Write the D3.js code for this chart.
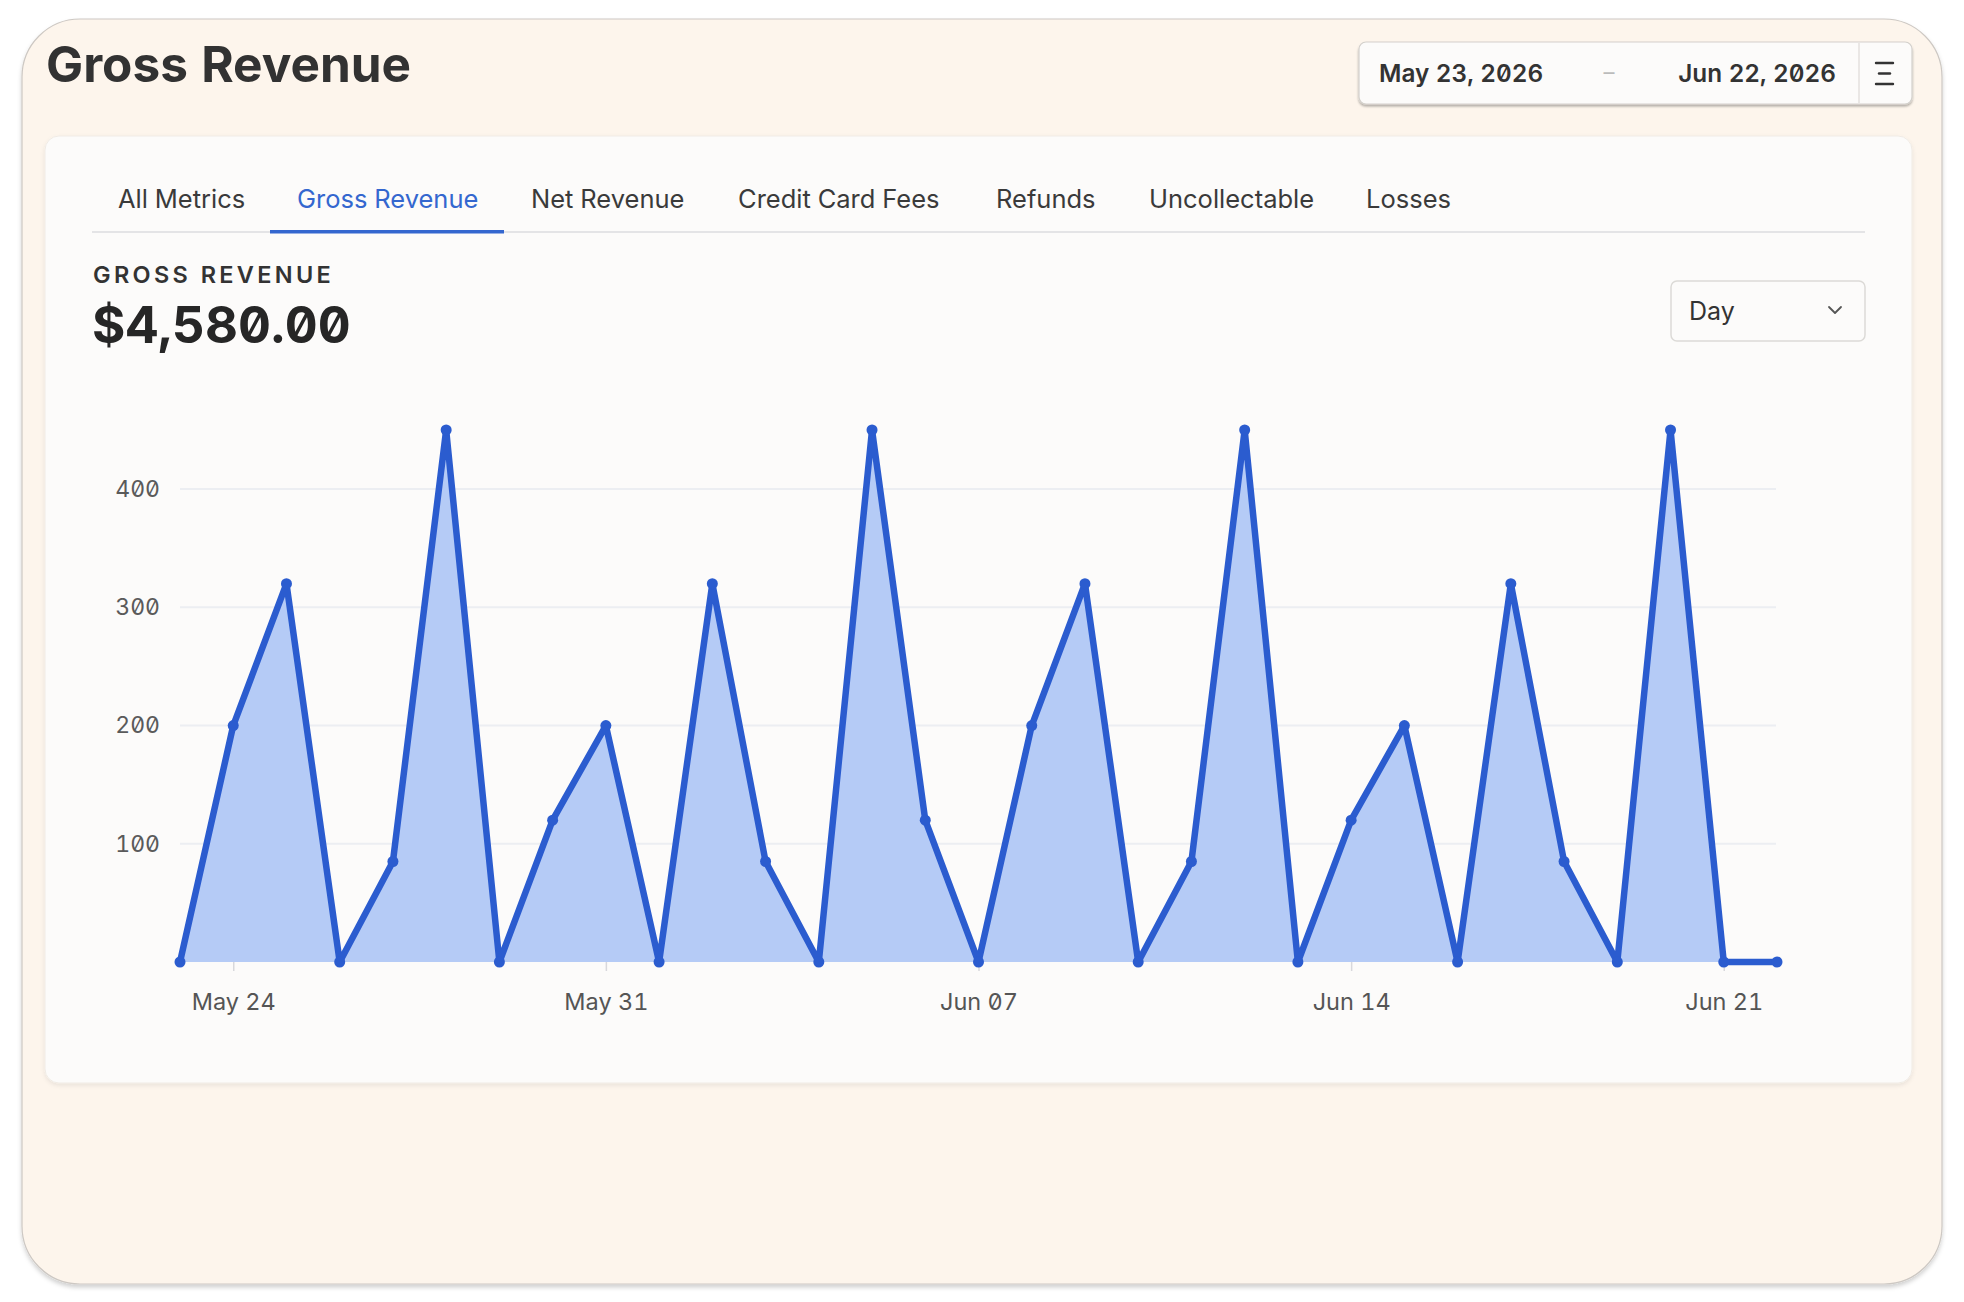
<!DOCTYPE html>
<html>
<head>
<meta charset="utf-8">
<script src="https://cdn.jsdelivr.net/npm/d3@7"></script>
<style>
  html, body { margin: 0; padding: 0; background: #ffffff; }
  svg { display: block; font-family: Inter, "Noto Sans", sans-serif; font-feature-settings: "zero" 1, "tnum" 1; }
</style>
</head>
<body>
<svg id="chart" width="1964" height="1302"></svg>
<script>
// ---- data ----
const dates = [
  "2026-05-23","2026-05-24","2026-05-25","2026-05-26","2026-05-27","2026-05-28","2026-05-29",
  "2026-05-30","2026-05-31","2026-06-01","2026-06-02","2026-06-03","2026-06-04","2026-06-05",
  "2026-06-06","2026-06-07","2026-06-08","2026-06-09","2026-06-10","2026-06-11","2026-06-12",
  "2026-06-13","2026-06-14","2026-06-15","2026-06-16","2026-06-17","2026-06-18","2026-06-19",
  "2026-06-20","2026-06-21","2026-06-22"
];
const values = [
  0, 200, 320, 0, 85, 450, 0,
  120, 200, 0, 320, 85, 0, 450,
  120, 0, 200, 320, 0, 85, 450,
  0, 120, 200, 0, 320, 85, 0,
  450, 0, 0
];
const yTickValues = [100, 200, 300, 400];
const xTickDates = ["2026-05-24", "2026-05-31", "2026-06-07", "2026-06-14", "2026-06-21"];
const tabs = ["All Metrics", "Gross Revenue", "Net Revenue", "Credit Card Fees", "Refunds", "Uncollectable", "Losses"];
const activeTab = "Gross Revenue";
const pageTitle = "Gross Revenue";
const metricLabel = "GROSS REVENUE";
const rangeStart = "May 23, 2026";
const rangeEnd = "Jun 22, 2026";
const granularity = "Day";

// ---- drawing ----
const parse = d3.utcParse("%Y-%m-%d");
const data = dates.map((d, i) => ({ date: parse(d), value: values[i] }));
const total = d3.sum(values);

const svg = d3.select("#chart");

const defs = svg.append("defs");
const f1 = defs.append("filter").attr("id", "outerShadow").attr("x", "-5%").attr("y", "-5%").attr("width", "110%").attr("height", "112%");
f1.append("feDropShadow").attr("dx", 0).attr("dy", 3).attr("stdDeviation", 2).attr("flood-color", "#000").attr("flood-opacity", 0.18);
const f2 = defs.append("filter").attr("id", "cardShadow").attr("x", "-5%").attr("y", "-5%").attr("width", "110%").attr("height", "112%");
f2.append("feDropShadow").attr("dx", 0).attr("dy", 2).attr("stdDeviation", 2).attr("flood-color", "#000").attr("flood-opacity", 0.08);
const f3 = defs.append("filter").attr("id", "boxShadow").attr("x", "-5%").attr("y", "-20%").attr("width", "110%").attr("height", "150%");
f3.append("feDropShadow").attr("dx", 0).attr("dy", 2).attr("stdDeviation", 1.2).attr("flood-color", "#000").attr("flood-opacity", 0.3);

// outer card
svg.append("rect")
  .attr("x", 22).attr("y", 19).attr("width", 1920).attr("height", 1265)
  .attr("rx", 58).attr("ry", 58)
  .attr("fill", "#fdf5ec").attr("stroke", "#cdc8c3").attr("stroke-width", 1.2)
  .attr("filter", "url(#outerShadow)");

// page title
svg.append("text")
  .attr("x", 46).attr("y", 82)
  .attr("font-size", 49.5).attr("font-weight", 700).attr("fill", "#323232")
  .text(pageTitle);

// date range box
const dr = svg.append("g");
dr.append("rect")
  .attr("x", 1359).attr("y", 42).attr("width", 553).attr("height", 62)
  .attr("rx", 7).attr("fill", "#fcfbfa").attr("stroke", "#d3d0cc").attr("stroke-width", 1.2)
  .attr("filter", "url(#boxShadow)");
dr.append("line").attr("x1", 1859).attr("x2", 1859).attr("y1", 43).attr("y2", 103)
  .attr("stroke", "#dedbd7").attr("stroke-width", 1.2);
dr.append("text").attr("x", 1379).attr("y", 82).attr("font-size", 24.3).attr("font-weight", 600)
  .attr("fill", "#333").text(rangeStart);
dr.append("text").attr("x", 1609).attr("y", 80).attr("text-anchor", "middle").attr("font-size", 22)
  .attr("fill", "#bbb").text("–");
dr.append("text").attr("x", 1836).attr("y", 82).attr("text-anchor", "end").attr("font-size", 24.3).attr("font-weight", 600)
  .attr("fill", "#333").text(rangeEnd);
// hamburger icon
[[63, 1876, 1893], [73.5, 1879, 1890], [84, 1876, 1893]].forEach(([yy, a, b]) => {
  dr.append("line").attr("x1", a).attr("x2", b).attr("y1", yy).attr("y2", yy)
    .attr("stroke", "#333").attr("stroke-width", 2.4).attr("stroke-linecap", "round");
});

// inner card
svg.append("rect")
  .attr("x", 45).attr("y", 136).attr("width", 1867).attr("height", 947)
  .attr("rx", 14).attr("fill", "#fcfbfa").attr("stroke", "#f0ebe5").attr("stroke-width", 1)
  .attr("filter", "url(#cardShadow)");

// tabs
const tabX = [118, 297, 531, 738, 996, 1149, 1366];
svg.append("line").attr("x1", 92).attr("x2", 1865).attr("y1", 232).attr("y2", 232)
  .attr("stroke", "#e4e4e6").attr("stroke-width", 2);
const tabG = svg.append("g");
tabs.forEach((t, i) => {
  tabG.append("text")
    .attr("x", tabX[i]).attr("y", 208)
    .attr("font-size", 25.5).attr("font-weight", 400)
    .attr("fill", t === activeTab ? "#3467cf" : "#3a3a3a")
    .text(t);
  if (t === activeTab) {
    tabG.append("rect").attr("x", 270).attr("y", 230).attr("width", 234).attr("height", 3.5)
      .attr("fill", "#3467cf");
  }
});

// metric label and total
svg.append("text").attr("x", 93).attr("y", 283)
  .attr("font-size", 23.5).attr("font-weight", 600).attr("letter-spacing", 3.3)
  .attr("fill", "#333").text(metricLabel);
svg.append("text").attr("x", 92).attr("y", 343)
  .attr("font-size", 51).attr("font-weight", 700).attr("fill", "#262626")
  .text("$" + d3.format(",.2f")(total));

// granularity dropdown
const dd = svg.append("g");
dd.append("rect").attr("x", 1671).attr("y", 281).attr("width", 194).attr("height", 60)
  .attr("rx", 6).attr("fill", "#fcfbfa").attr("stroke", "#dcdad7").attr("stroke-width", 1.5);
dd.append("text").attr("x", 1689).attr("y", 320).attr("font-size", 25).attr("fill", "#333").text(granularity);
dd.append("path").attr("d", "M1829,307 L1835,313 L1841,307")
  .attr("fill", "none").attr("stroke", "#555").attr("stroke-width", 1.8)
  .attr("stroke-linecap", "round").attr("stroke-linejoin", "round");

// chart
const x = d3.scaleUtc()
  .domain(d3.extent(data, d => d.date))
  .range([180, 1777]);
const y = d3.scaleLinear()
  .domain([0, 450])
  .range([962, 430]);

const plot = svg.append("g");

// gridlines
plot.append("g").selectAll("line").data(yTickValues).join("line")
  .attr("x1", 180).attr("x2", 1776)
  .attr("y1", d => y(d)).attr("y2", d => y(d))
  .attr("stroke", "#eceef2").attr("stroke-width", 2);

// y axis
const yAxis = plot.append("g").attr("transform", "translate(180,0)")
  .call(d3.axisLeft(y).tickValues(yTickValues).tickSize(0).tickPadding(20));
yAxis.select(".domain").remove();
yAxis.selectAll("text")
  .attr("font-family", "Inter, sans-serif")
  .attr("font-size", 23).attr("fill", "#5a5a5a");

// x axis
const xAxis = plot.append("g").attr("transform", "translate(0,962)")
  .call(d3.axisBottom(x)
    .tickValues(xTickDates.map(parse))
    .tickFormat(d3.utcFormat("%b %d"))
    .tickSize(9).tickPadding(22));
xAxis.select(".domain").remove();
xAxis.selectAll(".tick line").attr("stroke", "#d8d8dc").attr("stroke-width", 1.5);
xAxis.selectAll("text")
  .attr("font-family", "Inter, sans-serif")
  .attr("font-size", 23.5).attr("fill", "#555");

// area
const lineColor = "#2b5ccf";
plot.append("path").datum(data)
  .attr("fill", "#b5cbf6")
  .attr("d", d3.area().x(d => x(d.date)).y0(y(0)).y1(d => y(d.value)));

// line
plot.append("path").datum(data)
  .attr("fill", "none").attr("stroke", lineColor).attr("stroke-width", 6.5)
  .attr("stroke-linejoin", "round").attr("stroke-linecap", "round")
  .attr("d", d3.line().x(d => x(d.date)).y(d => y(d.value)));

// points
plot.append("g").selectAll("circle").data(data).join("circle")
  .attr("cx", d => x(d.date)).attr("cy", d => y(d.value))
  .attr("r", 5.5).attr("fill", lineColor);
</script>
</body>
</html>
